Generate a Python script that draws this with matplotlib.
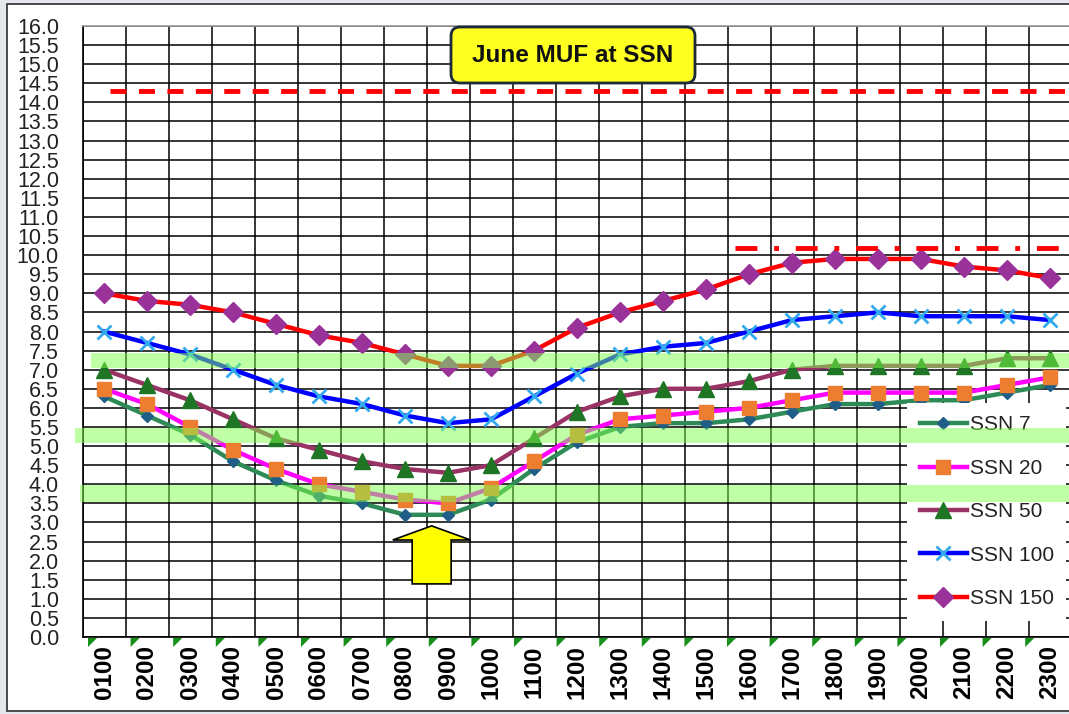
import matplotlib
matplotlib.use('Agg')
import matplotlib.pyplot as plt
import matplotlib.transforms as mtransforms
from matplotlib.patches import Rectangle, FancyBboxPatch, FancyArrow, Polygon
import numpy as np

plt.rcParams['font.family'] = ['Liberation Sans', 'DejaVu Sans']

# ---------------- data ----------------
hours = ['0100', '0200', '0300', '0400', '0500', '0600', '0700', '0800', '0900', '1000',
         '1100', '1200', '1300', '1400', '1500', '1600', '1700', '1800', '1900', '2000',
         '2100', '2200', '2300']
ssn7 = [6.3, 5.8, 5.3, 4.6, 4.1, 3.7, 3.5, 3.2, 3.2, 3.6, 4.4, 5.1, 5.5, 5.6, 5.6, 5.7,
        5.9, 6.1, 6.1, 6.2, 6.2, 6.4, 6.6]
ssn20 = [6.5, 6.1, 5.5, 4.9, 4.4, 4.0, 3.8, 3.6, 3.5, 3.9, 4.6, 5.3, 5.7, 5.8, 5.9, 6.0,
         6.2, 6.4, 6.4, 6.4, 6.4, 6.6, 6.8]
ssn50 = [7.0, 6.6, 6.2, 5.7, 5.2, 4.9, 4.6, 4.4, 4.3, 4.5, 5.2, 5.9, 6.3, 6.5, 6.5, 6.7,
         7.0, 7.1, 7.1, 7.1, 7.1, 7.3, 7.3]
ssn100 = [8.0, 7.7, 7.4, 7.0, 6.6, 6.3, 6.1, 5.8, 5.6, 5.7, 6.3, 6.9, 7.4, 7.6, 7.7, 8.0,
          8.3, 8.4, 8.5, 8.4, 8.4, 8.4, 8.3]
ssn150 = [9.0, 8.8, 8.7, 8.5, 8.2, 7.9, 7.7, 7.4, 7.1, 7.1, 7.5, 8.1, 8.5, 8.8, 9.1, 9.5,
          9.8, 9.9, 9.9, 9.9, 9.7, 9.6, 9.4]
series_labels = ['SSN 7', 'SSN 20', 'SSN 50', 'SSN 100', 'SSN 150']
ref_dashed = 14.3
ref_dashdot = 10.18
bands = [(7.05, 7.45), (5.07, 5.48), (3.54, 3.97)]
title = 'June MUF at SSN'

# ---------------- figure ----------------
W, H = 1069, 714
fig = plt.figure(figsize=(W / 100, H / 100), dpi=100, facecolor='#e4e7ec')
bp = mtransforms.Affine2D().scale(1 / W, 1 / H) + fig.transFigure  # pixel coords, bottom origin


def ty(y):
    return H - y


# outer chart frame
fig.add_artist(Rectangle((7, ty(711)), W, 707, transform=bp, fc='white', ec='#3c3c3c',
                         lw=1.3, zorder=0))

ax = fig.add_axes([82.5 / W, (H - 637) / H, 989 / W, 611 / H])
ax.set_facecolor('white')
x = np.arange(len(hours))

styles = [
    dict(color='#2e8b57', marker='D', ms=6.5, mfc='#1f5f87', mec='#1f5f87'),
    dict(color='#ff00ff', marker='s', ms=10.5, mfc='#ed7d31', mec='#ed7d31'),
    dict(color='#993366', marker='^', ms=12, mfc='#1e7524', mec='#1e7524'),
    dict(color='#0000ff', marker='x', ms=10, mew=2, mfc='#33aaee', mec='#33aaee'),
    dict(color='#ff0000', marker='D', ms=10, mfc='#993399', mec='#993399'),
]
handles = []
for vals, lab, st in zip([ssn7, ssn20, ssn50, ssn100, ssn150], series_labels, styles):
    h, = ax.plot(x, vals, lw=3.2, label=lab, zorder=3, **st)
    handles.append(h)

# reference lines
ax.plot([0.14, 22.6], [ref_dashed, ref_dashed], color='#ff0000', lw=3.5,
        linestyle=(0, (3.3, 2.55)), zorder=3, clip_on=False)
ax.plot([14.67, 22.6], [ref_dashdot, ref_dashdot], color='#ff0000', lw=3.5,
        linestyle=(0, (4.5, 3.45, 1.0, 3.45)), zorder=3, clip_on=False)

ax.set_xlim(-0.5, 22.5)
ax.set_ylim(0, 16)
ax.set_xticks(x)
ax.set_xticklabels(hours, rotation=90, fontsize=17.5, fontweight='bold', color='black')
ax.set_xticks(np.arange(-0.5, 23, 1), minor=True)
yt = np.arange(0, 16.01, 0.5)
ax.set_yticks(yt)
ax.set_yticklabels(['%.1f' % v for v in yt], fontsize=15.5, color='#222222')
ax.tick_params(axis='both', which='both', length=0)
ax.tick_params(axis='x', pad=6)
ax.tick_params(axis='y', pad=17)
ax.grid(True, axis='y', which='major', color='black', lw=1.1)
ax.grid(True, axis='x', which='minor', color='black', lw=1.1)
ax.grid(False, axis='x', which='major')
ax.set_axisbelow(True)
ax.spines['right'].set_visible(False)
ax.spines['top'].set_color('#9a9a9a')
ax.spines['top'].set_linewidth(1.2)
for s in ['left', 'bottom']:
    ax.spines[s].set_color('black')
    ax.spines[s].set_linewidth(1.2)

# legend
leg = ax.legend(handles=handles, loc='upper left', bbox_to_anchor=(907 / W, 1 - 403 / H),
                bbox_transform=fig.transFigure, frameon=True, facecolor='white',
                edgecolor='none', framealpha=1, fancybox=False, fontsize=15,
                handlelength=2.26, handletextpad=0.15, labelspacing=1.17, borderpad=0.6,
                borderaxespad=0)
leg.set_zorder(5)
for t in leg.get_texts():
    t.set_color('#222222')

# green highlight bands (over lines, translucent)
band_starts = [91, 75, 80]
for (lo, hi), sx in zip(bands, band_starts):
    ax.axhspan(lo, hi, xmin=(sx - 82.5) / 989, xmax=1.1, color=(0.5, 1.0, 0.3), alpha=0.5,
               lw=0, zorder=6, clip_on=False)

# yellow arrow
ax.add_patch(FancyArrow(7.62, 1.39, 0, 1.52, width=0.907, head_width=1.81, head_length=0.37,
                        length_includes_head=True, fc='#ffff00', ec='black', lw=1.2,
                        zorder=7))

# title box
fig.add_artist(FancyBboxPatch((451, ty(83)), 244, 56,
                              boxstyle='round,pad=0,rounding_size=9', transform=bp,
                              fc='#ffff22', ec='#1d2b38', lw=2, zorder=8))
fig.text(573 / W, 1 - 55 / H, title, ha='center', va='center', fontsize=17.5,
         fontweight='bold', color='#111111', zorder=9)

# little green cell markers under the axis
for i in range(len(hours)):
    cx = 92.5 + 42.6 * i
    fig.add_artist(Polygon([(cx - 4.5, ty(638)), (cx + 4.5, ty(638)), (cx - 4.5, ty(647))],
                           closed=True, transform=bp, fc='#16901a', ec='none', zorder=9))

fig.savefig('out.png', dpi=100, facecolor=fig.get_facecolor())
